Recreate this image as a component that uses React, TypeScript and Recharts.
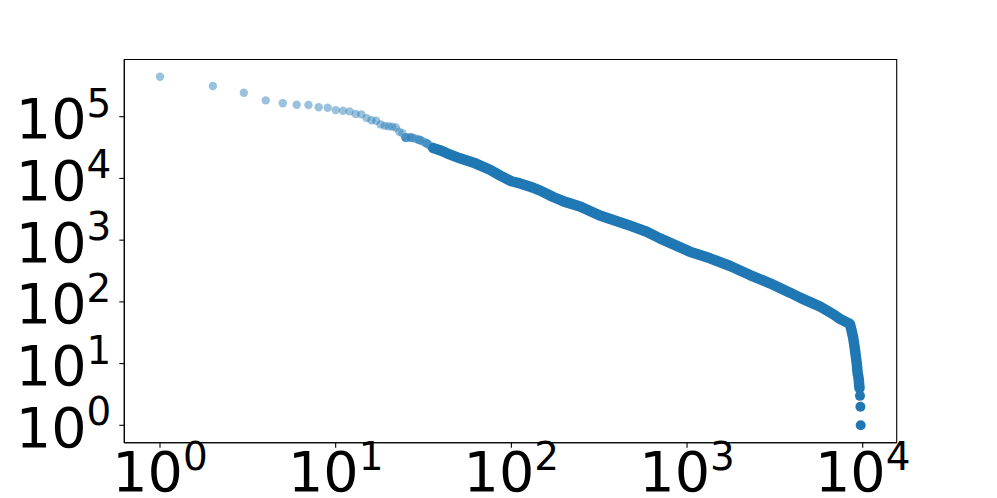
import { ScatterChart, Scatter, XAxis, YAxis, ReferenceArea } from 'recharts'

// word frequency by rank
const headRanks = [1, 2, 3, 4, 5, 6, 7, 8, 9, 10, 11, 12, 13, 14, 15, 16, 17, 18, 19, 20, 21, 22, 23, 24, 25]
const headCounts = [
  445000, 315000, 245000, 184000, 165000, 156000, 155000, 142000, 140000, 128000, 125000, 122000, 111000,
  109000, 95000, 87500, 86000, 75000, 71000, 70000, 69000, 67000, 57000, 54000, 46000,
]

// overlapping, still see-through part of the curve
const shoulderRanks = [25, 27, 30, 33, 36, 40]
const shoulderCounts = [46000, 46000, 42000, 37000, 31000, 28000]

// dense part, where the markers merge into a solid band
const bodyRanks = [
  36, 40, 43, 51, 61, 76, 86, 100, 112, 128, 146, 173, 200, 246, 319, 380, 453, 589, 701, 1037, 1352, 1759,
  2282, 2965, 3855, 4394, 5010, 5710, 6800, 7420, 8450, 8650, 8830, 8980, 9110, 9250, 9360, 9460, 9520, 9590,
]
const bodyCounts = [
  31000, 28000, 25500, 21200, 18000, 13700, 11200, 9000, 8300, 7360, 6340, 5000, 4210, 3500, 2500, 2120, 1800,
  1370, 1070, 651, 508, 381, 272, 200, 141, 117, 99, 84, 63, 53, 44, 34, 26, 19, 14, 10, 7, 6, 5, 4,
]

const tailRanks = [9650, 9700, 9740]
const tailCounts = [3, 2, 1]

const xTicks = [1, 10, 100, 1000, 10000]
const yTicks = [1, 10, 100, 1000, 10000, 100000]

const X_DOMAIN: [number, number] = [0.6264, 15612]
const Y_DOMAIN: [number, number] = [0.5225, 845300]

const BLUE = '#1f77b4'
const FONT = '"DejaVu Sans", sans-serif'

const toPoints = (ranks: number[], counts: number[]) => ranks.map((rank, i) => ({ rank, count: counts[i] }))

const head = toPoints(headRanks, headCounts)
const shoulder = toPoints(shoulderRanks, shoulderCounts)
const body = toPoints(bodyRanks, bodyCounts)
const tail = toPoints(tailRanks, tailCounts)

type TickProps = { x: number; y: number; payload: { value: number } }

const exponent = (v: number) => Math.round(Math.log10(v))

function XTick({ x, y, payload }: TickProps) {
  return (
    <text x={x} y={y + 41.3} textAnchor="middle" fontFamily={FONT} fontSize={55.6} fill="#000">
      10
      <tspan dy={-21} fontSize={38.9}>
        {exponent(payload.value)}
      </tspan>
    </text>
  )
}

function YTick({ x, y, payload }: TickProps) {
  return (
    <text x={x - 6} y={y + 21.6} textAnchor="end" fontFamily={FONT} fontSize={55.6} fill="#000">
      10
      <tspan dy={-21.6} fontSize={38.9}>
        {exponent(payload.value)}
      </tspan>
    </text>
  )
}

const dot = (r: number, opacity: number) => (p: { cx?: number; cy?: number }) =>
  <circle cx={p.cx} cy={p.cy} r={r} fill={BLUE} fillOpacity={opacity} />

const noDot = () => <g />

export default function App() {
  return (
    <div style={{ position: 'absolute', left: 0, top: 0, background: '#fff' }}>
      <ScatterChart width={997} height={498} margin={{ top: 59.5, right: 100.3, bottom: 0, left: 0 }}>
        <XAxis
          dataKey="rank"
          type="number"
          scale="log"
          domain={X_DOMAIN}
          allowDataOverflow
          ticks={xTicks}
          height={55.3}
          tickSize={5}
          tick={XTick as any}
          axisLine={{ stroke: '#000', strokeWidth: 1.1 }}
          tickLine={{ stroke: '#000', strokeWidth: 1.1 }}
        />
        <YAxis
          dataKey="count"
          type="number"
          scale="log"
          domain={Y_DOMAIN}
          allowDataOverflow
          ticks={yTicks}
          width={124.3}
          tickSize={5}
          tick={YTick as any}
          axisLine={{ stroke: '#000', strokeWidth: 1.1 }}
          tickLine={{ stroke: '#000', strokeWidth: 1.1 }}
        />
        <ReferenceArea
          x1={X_DOMAIN[0]}
          x2={X_DOMAIN[1]}
          y1={Y_DOMAIN[0]}
          y2={Y_DOMAIN[1]}
          fill="none"
          stroke="#000"
          strokeWidth={1.1}
          ifOverflow="visible"
        />
        <Scatter data={head} shape={dot(4.2, 0.45)} isAnimationActive={false} />
        <Scatter
          data={shoulder}
          shape={dot(4.4, 0.5)}
          line={{ stroke: '#6fa8d2', strokeWidth: 8.5, fill: 'none', strokeLinecap: 'round', strokeLinejoin: 'round' } as any}
          isAnimationActive={false}
        />
        <Scatter
          data={body}
          shape={noDot}
          line={{ stroke: BLUE, strokeWidth: 10.5, fill: 'none', strokeLinecap: 'round', strokeLinejoin: 'round' } as any}
          isAnimationActive={false}
        />
        <Scatter data={tail} shape={dot(5, 1)} isAnimationActive={false} />
      </ScatterChart>
    </div>
  )
}
